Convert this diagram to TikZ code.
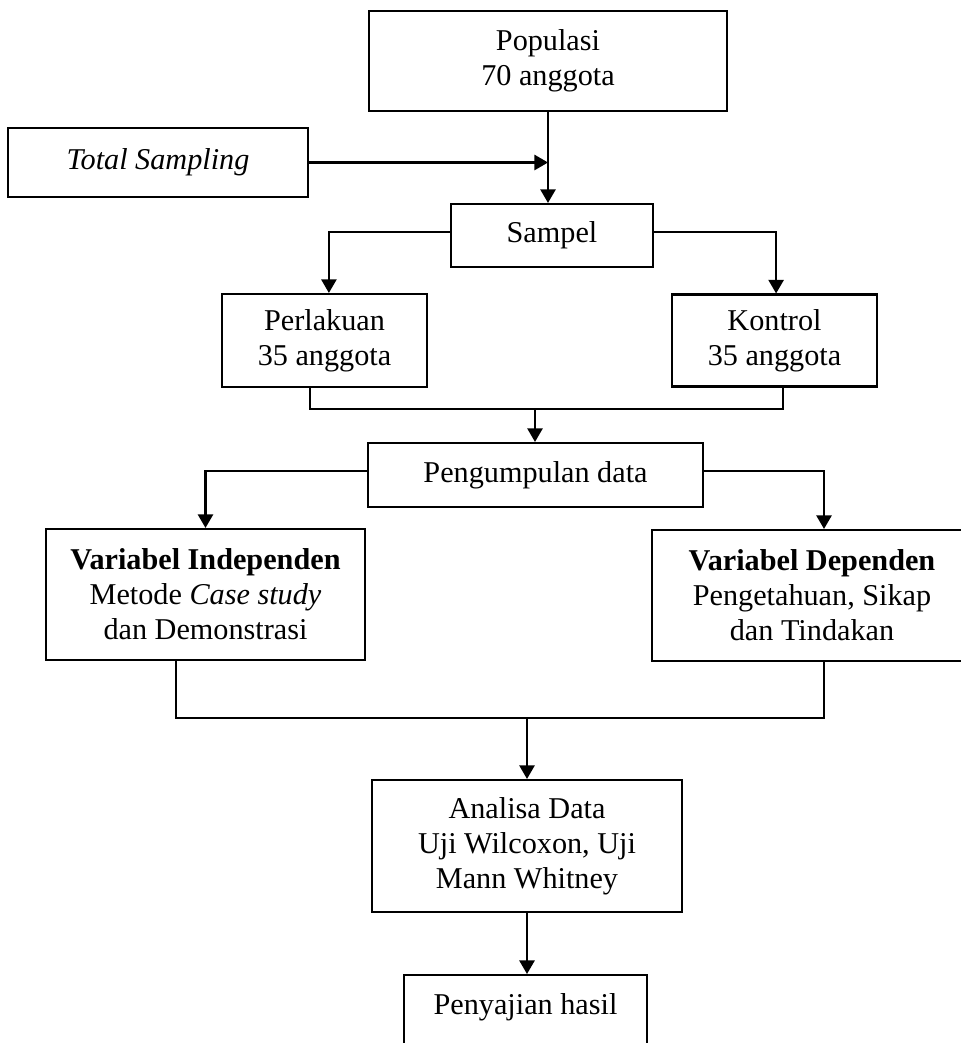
\documentclass[tikz,border=0pt]{standalone}
\usepackage{fontspec}
\setmainfont{Liberation Serif}
\usetikzlibrary{arrows.meta}

\begin{document}
\begin{tikzpicture}[
    box/.style={draw, line width=1.5pt, align=center, inner sep=0pt, font=\fontsize{21.5}{25}\selectfont},
    line/.style={line width=1.5pt},
    arrow/.style={line width=1.5pt, -{Triangle[length=0.34cm, width=0.38cm]}}
]
    \useasboundingbox (0, 0) rectangle (24.025, -26.075);

    % Populasi
    \node[box, minimum width=8.95cm, minimum height=2.5cm] (Populasi) at (13.7, -1.525) {Populasi\\70 anggota};

    % Total Sampling
    \node[box, minimum width=7.5cm, minimum height=1.725cm] (TotalSampling) at (3.95, -4.0625) {\textit{Total Sampling}};

    % Sampel
    \node[box, minimum width=5.05cm, minimum height=1.575cm] (Sampel) at (13.8, -5.8875) {Sampel};

    % Perlakuan and Kontrol
    \node[box, minimum width=5.125cm, minimum height=2.325cm] (Perlakuan) at (8.1125, -8.5125) {Perlakuan\\35 anggota};
    \node[box, minimum width=5.125cm, minimum height=2.3cm] (Kontrol) at (19.3625, -8.5125) {Kontrol\\35 anggota};

    % Pengumpulan data
    \node[box, minimum width=8.375cm, minimum height=1.6cm] (Pengumpulan) at (13.3875, -11.875) {Pengumpulan data};

    % Variabel
    \node[box, minimum width=7.975cm, minimum height=3.275cm] (VarIndep) at (5.1375, -14.8625) {\textbf{Variabel Independen}\\Metode \textit{Case study}\\dan Demonstrasi};
    \node[box, minimum width=8cm, minimum height=3.275cm] (VarDep) at (20.3, -14.8875) {\textbf{Variabel Dependen}\\Pengetahuan, Sikap\\dan Tindakan};

    % Analisa Data
    \node[box, minimum width=7.75cm, minimum height=3.3cm] (Analisa) at (13.175, -21.15) {Analisa Data\\Uji Wilcoxon, Uji\\Mann Whitney};

    % Penyajian hasil
    \node[box, anchor=north, minimum width=6.075cm, text height=0.975cm, text depth=2cm] (Penyajian) at (13.1375, -24.35) {Penyajian hasil};

    % Connections
    \coordinate (joinA) at (13.375, -10.225);
    \coordinate (joinB) at (13.175, -17.95);
    \draw[arrow] (Populasi.south) -- (Populasi.south |- Sampel.north);
    \draw[arrow] (TotalSampling.east) -- (TotalSampling.east -| Populasi.south);
    \draw[arrow] ([yshift=0.09cm]Sampel.west) -| ([xshift=0.11cm]Perlakuan.north);
    \draw[arrow] ([yshift=0.09cm]Sampel.east) -| ([xshift=0.04cm]Kontrol.north);
    \draw[line] ([xshift=-0.36cm]Perlakuan.south) |- (joinA) -| ([xshift=0.21cm]Kontrol.south);
    \draw[arrow] (joinA) -- (joinA |- Pengumpulan.north);
    \draw[arrow] ([yshift=0.1cm]Pengumpulan.west) -| (VarIndep.north);
    \draw[arrow] ([yshift=0.1cm]Pengumpulan.east) -| ([xshift=0.3cm]VarDep.north);
    \draw[line] ([xshift=-0.74cm]VarIndep.south) |- (joinB) -| ([xshift=0.3cm]VarDep.south);
    \draw[arrow] (joinB) -- (Analisa.north);
    \draw[arrow] (Analisa.south) -- (Analisa.south |- Penyajian.north);

\end{tikzpicture}
\end{document}
